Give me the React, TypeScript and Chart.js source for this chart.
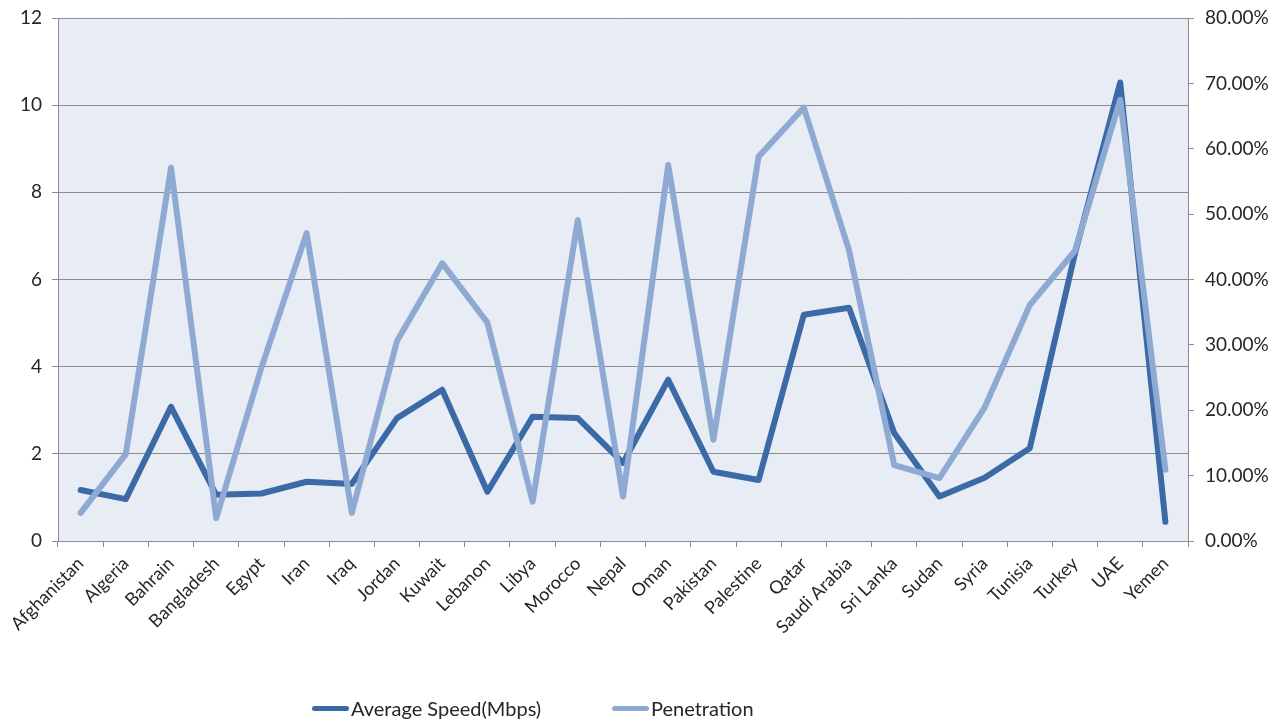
import React, { useEffect, useRef } from "react";
import { Chart, registerables } from "chart.js";

Chart.register(...registerables);

const countries = [
  "Afghanistan", "Algeria", "Bahrain", "Bangladesh", "Egypt", "Iran", "Iraq", "Jordan",
  "Kuwait", "Lebanon", "Libya", "Morocco", "Nepal", "Oman", "Pakistan", "Palestine",
  "Qatar", "Saudi Arabia", "Sri Lanka", "Sudan", "Syria", "Tunisia", "Turkey", "UAE", "Yemen",
];

const averageSpeed = [
  1.17, 0.96, 3.08, 1.06, 1.09, 1.36, 1.31, 2.82, 3.47, 1.13, 2.85, 2.82, 1.79,
  3.7, 1.59, 1.4, 5.19, 5.35, 2.48, 1.02, 1.45, 2.13, 6.6, 10.52, 0.44,
];

const penetration = [
  4.3, 13.3, 57.1, 3.5, 26.5, 47.1, 4.3, 30.6, 42.5, 33.4, 6.0, 49.1, 6.8,
  57.5, 15.5, 58.8, 66.3, 44.5, 11.6, 9.6, 20.4, 36.1, 44.4, 67.5, 10.9,
];

const speedTicks = [0, 2, 4, 6, 8, 10, 12];
const penetrationTicks = [0, 10, 20, 30, 40, 50, 60, 70, 80];

const DARK = "#3b6aa6";
const PALE = "#8eaad3";
const GRID = "#8c8c8c";
const TEXT = "#262626";
const FONT = "Lato, 'Open Sans', sans-serif";

const plotBg = {
  id: "plotBg",
  beforeDraw(chart: any) {
    const { ctx, chartArea } = chart;
    ctx.save();
    ctx.fillStyle = "#e8edf5";
    ctx.fillRect(chartArea.left, chartArea.top, chartArea.right - chartArea.left, chartArea.bottom - chartArea.top);
    ctx.restore();
  },
};

export default function App() {
  const ref = useRef<HTMLCanvasElement | null>(null);

  useEffect(() => {
    if (!ref.current) return;
    const chart = new Chart(ref.current, {
      type: "line",
      data: {
        labels: countries,
        datasets: [
          {
            label: "Average Speed(Mbps)",
            data: averageSpeed,
            borderColor: DARK,
            backgroundColor: DARK,
            borderWidth: 6,
            pointRadius: 0,
            tension: 0,
            yAxisID: "y",
            order: 2,
            borderCapStyle: "round",
            borderJoinStyle: "round",
          },
          {
            label: "Penetration",
            data: penetration,
            borderColor: PALE,
            backgroundColor: PALE,
            borderWidth: 6,
            pointRadius: 0,
            tension: 0,
            yAxisID: "y1",
            order: 1,
            borderCapStyle: "round",
            borderJoinStyle: "round",
          },
        ],
      },
      options: {
        responsive: false,
        animation: false,
        layout: { padding: { left: 0, right: 0, top: 18, bottom: 0 } },
        plugins: {
          legend: { display: false },
          tooltip: { enabled: false },
        },
        scales: {
          x: {
            offset: true,
            grid: {
              offset: true,
              drawOnChartArea: false,
              drawTicks: true,
              tickLength: 6,
              color: GRID,
            },
            border: { color: GRID, width: 1 },
            ticks: {
              autoSkip: false,
              minRotation: 45,
              maxRotation: 45,
              color: TEXT,
              font: { family: FONT, size: 18 },
              padding: 6,
            },
            afterFit: (s: any) => {
              s.height = 181;
              s.paddingLeft = 0;
              s.paddingRight = 0;
            },
          },
          y: {
            position: "left",
            min: 0,
            max: 12,
            afterBuildTicks: (s: any) => {
              s.ticks = speedTicks.map((v) => ({ value: v }));
            },
            grid: { color: GRID, tickLength: 6, lineWidth: 1 },
            border: { color: GRID, width: 1 },
            ticks: {
              color: TEXT,
              font: { family: FONT, size: 19 },
              padding: 10,
            },
            afterFit: (s: any) => {
              s.width = 58;
              s.paddingTop = 0;
              s.paddingBottom = 0;
            },
          },
          y1: {
            position: "right",
            min: 0,
            max: 80,
            afterBuildTicks: (s: any) => {
              s.ticks = penetrationTicks.map((v) => ({ value: v }));
            },
            grid: { drawOnChartArea: false, color: GRID, tickLength: 6 },
            border: { color: GRID, width: 1 },
            ticks: {
              color: TEXT,
              font: { family: FONT, size: 19 },
              padding: 11,
              callback: (v: any) => Number(v).toFixed(2) + "%",
            },
            afterFit: (s: any) => {
              s.width = 92;
              s.paddingTop = 0;
              s.paddingBottom = 0;
            },
          },
        },
      },
      plugins: [plotBg],
    });
    return () => chart.destroy();
  }, []);

  const legendItem = (left: number, color: string, text: string) => (
    <div
      style={{
        position: "absolute",
        left,
        top: 695,
        height: 26,
        display: "flex",
        alignItems: "center",
        fontFamily: FONT,
        fontSize: 20,
        color: TEXT,
        whiteSpace: "nowrap",
      }}
    >
      <span style={{ display: "inline-block", width: 37, height: 5, background: color, borderRadius: 3, marginRight: 2 }} />
      <span>{text}</span>
    </div>
  );

  return (
    <div style={{ position: "absolute", left: 0, top: 0, width: 1280, height: 722, background: "#fff" }}>
      <canvas ref={ref} width={1280} height={722} style={{ display: "block" }} />
      {legendItem(312, DARK, "Average Speed(Mbps)")}
      {legendItem(612, PALE, "Penetration")}
    </div>
  );
}
